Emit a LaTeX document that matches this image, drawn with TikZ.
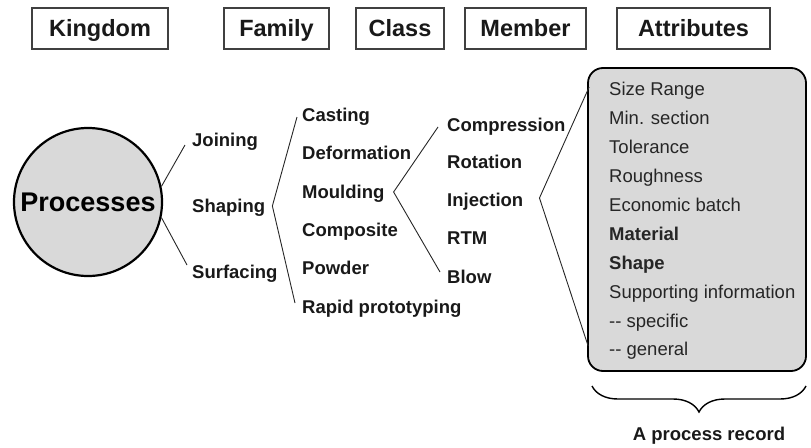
\documentclass[tikz,border=0pt]{standalone}
\usepackage{fontspec}
\setmainfont{Liberation Sans}
\usetikzlibrary{calc,decorations.pathreplacing}
\begin{document}
\begin{tikzpicture}[x=1pt,y=1pt,
  hdr/.style={draw=black!75,line width=1.3pt,fill=white,inner sep=0pt,minimum height=41pt,text height=16.5pt,text depth=0pt,font=\bfseries\fontsize{23.5}{26}\selectfont,text=black!90},
  lab/.style={anchor=west,inner sep=2pt,text height=13pt,text depth=0pt,font=\bfseries\fontsize{18.5}{22}\selectfont,text=black!90},
  att/.style={anchor=west,inner sep=2pt,text height=13pt,text depth=0pt,font=\fontsize{18.5}{22}\selectfont,text=black!85},
  attb/.style={att,font=\bfseries\fontsize{18.5}{22}\selectfont},
  conn/.style={draw=black!85,line width=0.9pt}]
\useasboundingbox (0,0) rectangle (811,-447);
% headers
\node[hdr,minimum width=136pt] (hk) at (100,-28.5) {Kingdom};
\node[hdr,minimum width=105pt] (hf) at (276.5,-28.5) {Family};
\node[hdr,minimum width=88pt] (hc) at (400,-28.5) {Class};
\node[hdr,minimum width=121pt] (hm) at (525.5,-28.5) {Member};
\node[hdr,minimum width=153pt] (ha) at (693.5,-28.5) {Attributes};
% kingdom
\node[circle,draw=black,line width=2.2pt,fill=gray!30,minimum size=148pt,inner sep=0pt,font=\bfseries\fontsize{27}{30}\selectfont] (proc) at (88,-202) {Processes};
% families
\node[lab] (join) at (190,-140) {Joining};
\node[lab] (shap) at (190,-206) {Shaping};
\node[lab] (surf) at (190,-272) {Surfacing};
% classes
\node[lab] (cast) at (300,-115) {Casting};
\node[lab] (defo) at (300,-153) {Deformation};
\node[lab] (moul) at (300,-192) {Moulding};
\node[lab] (comp) at (300,-230) {Composite};
\node[lab] (powd) at (300,-268) {Powder};
\node[lab] (rapi) at (300,-307) {Rapid prototyping};
% members
\node[lab] (cmpr) at (445,-125) {Compression};
\node[lab] (rota) at (445,-162) {Rotation};
\node[lab] (inje) at (445,-200) {Injection};
\node[lab] (rtm) at (445,-238) {RTM};
\node[lab] (blow) at (445,-277) {Blow};
% record box
\node[draw=black,line width=1.8pt,rounded corners=15pt,fill=gray!30,minimum width=218pt,minimum height=303pt,inner sep=0pt] (rec) at (697,-219.5) {};
\node[att] (a1) at (607,-89) {Size Range};
\node[att] (a2) at (607,-118) {Min. section};
\node[att] (a3) at (607,-147) {Tolerance};
\node[att] (a4) at (607,-176) {Roughness};
\node[att] (a5) at (607,-205) {Economic batch};
\node[attb] (a6) at (607,-234) {Material};
\node[attb] (a7) at (607,-263) {Shape};
\node[att] (a8) at (607,-292) {Supporting information};
\node[att] (a9) at (607,-321) {{-}{-} specific};
\node[att] (a10) at (607,-349) {{-}{-} general};
% connectors
\coordinate (jend) at ($(join.west)+(-5,-5)$);
\coordinate (send) at ($(surf.west)+(-3,7)$);
\draw[conn] (proc.12) -- (jend);
\draw[conn] (proc.-12) -- (send);
\coordinate (shv) at ($(shap.east)+(5,0)$);
\coordinate (ctop) at ($(cast.west)+(-3,-2)$);
\coordinate (cbot) at ($(rapi.west)+(-5,4)$);
\draw[conn] (ctop) -- (shv) -- (cbot);
\coordinate (mov) at ($(moul.east)+(7,0)$);
\coordinate (mtop) at ($(cmpr.west)+(-7,-2)$);
\coordinate (mbot) at ($(blow.west)+(-5,5)$);
\draw[conn] (mtop) -- (mov) -- (mbot);
\coordinate (inv) at ($(inje.east)+(14,2)$);
\coordinate (rtop) at ($(rec.north west)+(2,-20)$);
\coordinate (rbot) at ($(rec.south west)+(1,26)$);
\draw[conn] (rtop) -- (inv) -- (rbot);
% brace
\coordinate (bl) at (592,-386);
\coordinate (br) at (806,-386);
\draw[line width=1.4pt,decorate,decoration={brace,mirror,amplitude=26pt}] (bl) -- (br);
\node[font=\bfseries\fontsize{18.5}{22}\selectfont,text=black!90] (lbl) at (709,-436) {A process record};
\end{tikzpicture}
\end{document}
